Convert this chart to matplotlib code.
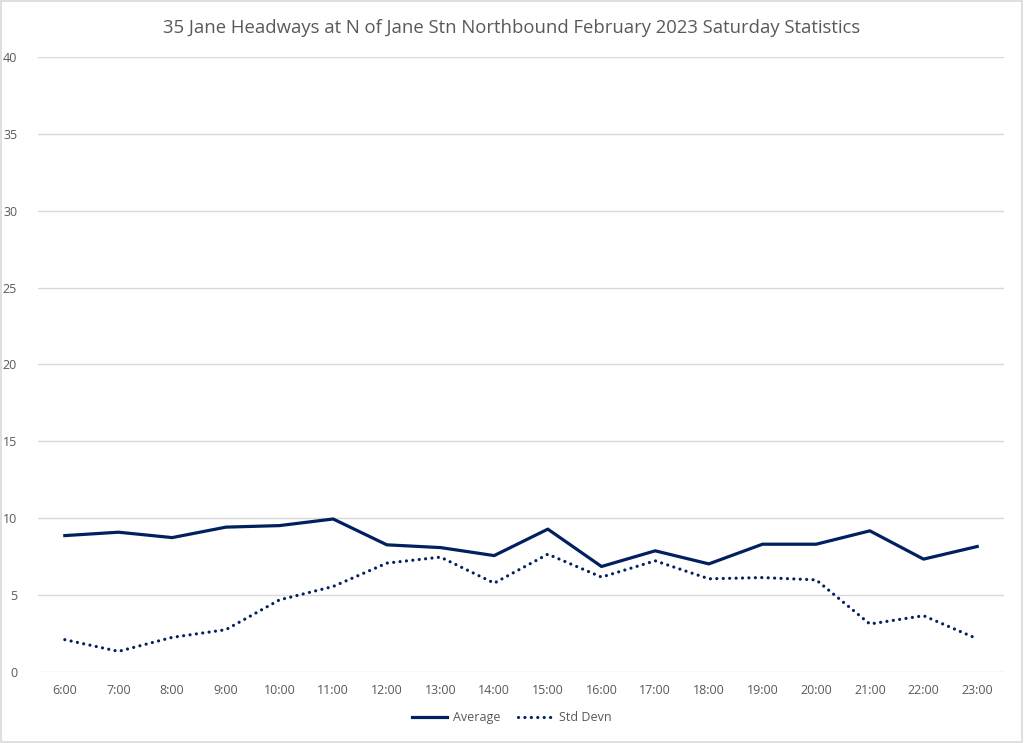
import matplotlib.pyplot as plt
from matplotlib.patches import Rectangle

hours = ['6:00', '7:00', '8:00', '9:00', '10:00', '11:00', '12:00', '13:00', '14:00',
         '15:00', '16:00', '17:00', '18:00', '19:00', '20:00', '21:00', '22:00', '23:00']
average = [8.87, 9.09, 8.74, 9.42, 9.52, 9.95, 8.27, 8.09, 7.57,
           9.29, 6.86, 7.88, 7.03, 8.31, 8.31, 9.18, 7.34, 8.16]
std_devn = [2.10, 1.34, 2.25, 2.75, 4.69, 5.56, 7.08, 7.47, 5.78,
            7.66, 6.17, 7.23, 6.06, 6.14, 5.99, 3.12, 3.66, 2.16]

plt.rcParams['font.family'] = ['Open Sans', 'DejaVu Sans']
navy = '#002060'
grey = '#595959'

fig = plt.figure(figsize=(10.24, 7.43), dpi=100)
ax = fig.add_axes([0.0371, 0.0956, 0.9434, 0.8277])

x = list(range(len(hours)))
ax.plot(x, average, color=navy, lw=2.3, label='Average', solid_joinstyle='round')
ax.plot(x, std_devn, color=navy, lw=2.3, ls=(0, (0.01, 2.0)), dash_capstyle='round',
        label='Std Devn')

ax.set_xlim(-0.5, len(hours) - 0.5)
ax.set_ylim(0, 40)
ax.set_yticks(range(0, 41, 5))
ax.set_xticks(x)
ax.set_xticklabels(hours)
ax.grid(axis='y', color='#d9d9d9', lw=1)
ax.set_axisbelow(True)
for s in ax.spines.values():
    s.set_visible(False)
ax.tick_params(length=0, colors=grey, labelsize=9)
ax.tick_params(axis='y', pad=15)
ax.tick_params(axis='x', pad=9)

fig.text(0.5, 0.962, '35 Jane Headways at N of Jane Stn Northbound February 2023 Saturday Statistics',
         ha='center', va='center', fontsize=13.3, color=grey)

fig.legend(loc='center', bbox_to_anchor=(0.5, 0.034), ncol=2, frameon=False,
           fontsize=9, labelcolor=grey, handlelength=2.8, handletextpad=0.5,
           columnspacing=1.4)

fig.patches.append(Rectangle((0.001, 0.002), 0.997, 0.996, transform=fig.transFigure,
                             fill=False, edgecolor='#d9d9d9', lw=1.2))

fig.savefig('out.png', dpi=100)
